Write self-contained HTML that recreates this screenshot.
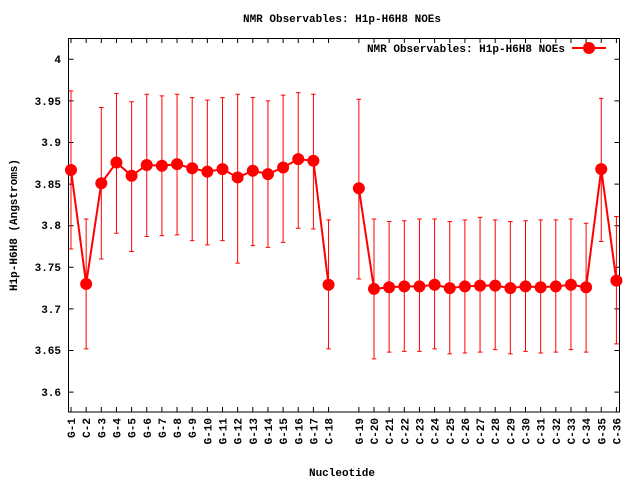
<!DOCTYPE html>
<html><head><meta charset="utf-8"><style>
html,body{margin:0;padding:0;background:#fff}
text{font-family:"Liberation Mono","DejaVu Sans Mono",monospace;font-weight:bold;font-size:11px;fill:#000}
</style></head><body>
<svg width="640" height="480" viewBox="0 0 640 480" xmlns="http://www.w3.org/2000/svg">
<rect width="640" height="480" fill="#fff"/>
<text x="342" y="22" text-anchor="middle">NMR Observables: H1p-H6H8 NOEs</text>
<text x="342" y="476" text-anchor="middle">Nucleotide</text>
<text transform="translate(17,225) rotate(-90)" text-anchor="middle">H1p-H6H8 (Angstroms)</text>
<!-- y ticks -->
<g stroke="#000" stroke-width="1">
<path d="M68.5,59.3h5M68.5,100.9h5M68.5,142.5h5M68.5,184.1h5M68.5,225.7h5M68.5,267.3h5M68.5,308.9h5M68.5,350.5h5M68.5,392.1h5"/>
<path d="M619.5,59.3h-5M619.5,100.9h-5M619.5,142.5h-5M619.5,184.1h-5M619.5,225.7h-5M619.5,267.3h-5M619.5,308.9h-5M619.5,350.5h-5M619.5,392.1h-5"/>
</g>
<g text-anchor="end">
<text x="61" y="63">4</text><text x="61" y="105">3.95</text><text x="61" y="146">3.9</text><text x="61" y="188">3.85</text><text x="61" y="229">3.8</text><text x="61" y="271">3.75</text><text x="61" y="313">3.7</text><text x="61" y="354">3.65</text><text x="61" y="396">3.6</text>
</g>
<!-- x ticks via transform -->
<g transform="matrix(15.15,0,0,1,71,0)" stroke="#000" fill="none">
<path vector-effect="non-scaling-stroke" d="M0,412v-5M1,412v-5M2,412v-5M3,412v-5M4,412v-5M5,412v-5M6,412v-5M7,412v-5M8,412v-5M9,412v-5M10,412v-5M11,412v-5M12,412v-5M13,412v-5M14,412v-5M15,412v-5M16,412v-5M17,412v-5M19,412v-5M20,412v-5M21,412v-5M22,412v-5M23,412v-5M24,412v-5M25,412v-5M26,412v-5M27,412v-5M28,412v-5M29,412v-5M30,412v-5M31,412v-5M32,412v-5M33,412v-5M34,412v-5M35,412v-5M36,412v-5
M0,38v5M1,38v5M2,38v5M3,38v5M4,38v5M5,38v5M6,38v5M7,38v5M8,38v5M9,38v5M10,38v5M11,38v5M12,38v5M13,38v5M14,38v5M15,38v5M16,38v5M17,38v5M19,38v5M20,38v5M21,38v5M22,38v5M23,38v5M24,38v5M25,38v5M26,38v5M27,38v5M28,38v5M29,38v5M30,38v5M31,38v5M32,38v5M33,38v5M34,38v5M35,38v5M36,38v5"/>
</g>
<rect x="68.5" y="38.5" width="551" height="373.5" fill="none" stroke="#000"/>
<g text-anchor="end">
<text transform="translate(75,418) rotate(-90)">G-1</text>
<text transform="translate(90.2,418) rotate(-90)">C-2</text>
<text transform="translate(105.3,418) rotate(-90)">G-3</text>
<text transform="translate(120.5,418) rotate(-90)">G-4</text>
<text transform="translate(135.6,418) rotate(-90)">G-5</text>
<text transform="translate(150.8,418) rotate(-90)">G-6</text>
<text transform="translate(165.9,418) rotate(-90)">G-7</text>
<text transform="translate(181.1,418) rotate(-90)">G-8</text>
<text transform="translate(196.2,418) rotate(-90)">G-9</text>
<text transform="translate(211.4,418) rotate(-90)">G-10</text>
<text transform="translate(226.5,418) rotate(-90)">G-11</text>
<text transform="translate(241.7,418) rotate(-90)">G-12</text>
<text transform="translate(256.8,418) rotate(-90)">G-13</text>
<text transform="translate(272,418) rotate(-90)">G-14</text>
<text transform="translate(287.1,418) rotate(-90)">G-15</text>
<text transform="translate(302.3,418) rotate(-90)">G-16</text>
<text transform="translate(317.4,418) rotate(-90)">G-17</text>
<text transform="translate(332.6,418) rotate(-90)">C-18</text>
<text transform="translate(362.9,418) rotate(-90)">G-19</text>
<text transform="translate(378,418) rotate(-90)">C-20</text>
<text transform="translate(393.2,418) rotate(-90)">C-21</text>
<text transform="translate(408.3,418) rotate(-90)">C-22</text>
<text transform="translate(423.5,418) rotate(-90)">C-23</text>
<text transform="translate(438.6,418) rotate(-90)">C-24</text>
<text transform="translate(453.8,418) rotate(-90)">C-25</text>
<text transform="translate(468.9,418) rotate(-90)">C-26</text>
<text transform="translate(484.1,418) rotate(-90)">C-27</text>
<text transform="translate(499.2,418) rotate(-90)">C-28</text>
<text transform="translate(514.4,418) rotate(-90)">C-29</text>
<text transform="translate(529.5,418) rotate(-90)">C-30</text>
<text transform="translate(544.7,418) rotate(-90)">C-31</text>
<text transform="translate(559.8,418) rotate(-90)">C-32</text>
<text transform="translate(575,418) rotate(-90)">C-33</text>
<text transform="translate(590.1,418) rotate(-90)">C-34</text>
<text transform="translate(605.3,418) rotate(-90)">G-35</text>
<text transform="translate(620.4,418) rotate(-90)">C-36</text>
</g>
<!-- data -->
<g transform="matrix(15.15,0,0,-832,71,3387.3)" fill="none" stroke="#f00">
<path vector-effect="non-scaling-stroke" stroke-width="1" d="
M0,3.772V3.962M-0.15,3.772H0.15M-0.15,3.962H0.15
M1,3.652V3.808M0.85,3.652H1.15M0.85,3.808H1.15
M2,3.760V3.942M1.85,3.760H2.15M1.85,3.942H2.15
M3,3.791V3.959M2.85,3.791H3.15M2.85,3.959H3.15
M4,3.769V3.949M3.85,3.769H4.15M3.85,3.949H4.15
M5,3.787V3.958M4.85,3.787H5.15M4.85,3.958H5.15
M6,3.788V3.956M5.85,3.788H6.15M5.85,3.956H6.15
M7,3.789V3.958M6.85,3.789H7.15M6.85,3.958H7.15
M8,3.782V3.954M7.85,3.782H8.15M7.85,3.954H8.15
M9,3.777V3.951M8.85,3.777H9.15M8.85,3.951H9.15
M10,3.782V3.954M9.85,3.782H10.15M9.85,3.954H10.15
M11,3.755V3.958M10.85,3.755H11.15M10.85,3.958H11.15
M12,3.776V3.954M11.85,3.776H12.15M11.85,3.954H12.15
M13,3.774V3.950M12.85,3.774H13.15M12.85,3.950H13.15
M14,3.780V3.957M13.85,3.780H14.15M13.85,3.957H14.15
M15,3.797V3.960M14.85,3.797H15.15M14.85,3.960H15.15
M16,3.796V3.958M15.85,3.796H16.15M15.85,3.958H16.15
M17,3.652V3.807M16.85,3.652H17.15M16.85,3.807H17.15
M19,3.736V3.952M18.85,3.736H19.15M18.85,3.952H19.15
M20,3.640V3.808M19.85,3.640H20.15M19.85,3.808H20.15
M21,3.648V3.805M20.85,3.648H21.15M20.85,3.805H21.15
M22,3.649V3.806M21.85,3.649H22.15M21.85,3.806H22.15
M23,3.649V3.808M22.85,3.649H23.15M22.85,3.808H23.15
M24,3.652V3.808M23.85,3.652H24.15M23.85,3.808H24.15
M25,3.646V3.805M24.85,3.646H25.15M24.85,3.805H25.15
M26,3.647V3.807M25.85,3.647H26.15M25.85,3.807H26.15
M27,3.648V3.810M26.85,3.648H27.15M26.85,3.810H27.15
M28,3.651V3.807M27.85,3.651H28.15M27.85,3.807H28.15
M29,3.646V3.805M28.85,3.646H29.15M28.85,3.805H29.15
M30,3.649V3.806M29.85,3.649H30.15M29.85,3.806H30.15
M31,3.647V3.807M30.85,3.647H31.15M30.85,3.807H31.15
M32,3.648V3.807M31.85,3.648H32.15M31.85,3.807H32.15
M33,3.651V3.808M32.85,3.651H33.15M32.85,3.808H33.15
M34,3.648V3.803M33.85,3.648H34.15M33.85,3.803H34.15
M35,3.781V3.953M34.85,3.781H35.15M34.85,3.953H35.15
M36,3.658V3.811M35.85,3.658H36.15M35.85,3.811H36.15"/>
<path vector-effect="non-scaling-stroke" stroke-width="2" d="M0,3.867L1,3.730L2,3.851L3,3.876L4,3.860L5,3.873L6,3.872L7,3.874L8,3.869L9,3.865L10,3.868L11,3.858L12,3.866L13,3.862L14,3.870L15,3.880L16,3.878L17,3.729
M19,3.845L20,3.724L21,3.726L22,3.727L23,3.727L24,3.729L25,3.725L26,3.727L27,3.728L28,3.728L29,3.725L30,3.727L31,3.726L32,3.727L33,3.729L34,3.726L35,3.868L36,3.734"/>
<path vector-effect="non-scaling-stroke" stroke-width="12" stroke-linecap="round" d="M0,3.867h0M1,3.730h0M2,3.851h0M3,3.876h0M4,3.860h0M5,3.873h0M6,3.872h0M7,3.874h0M8,3.869h0M9,3.865h0M10,3.868h0M11,3.858h0M12,3.866h0M13,3.862h0M14,3.870h0M15,3.880h0M16,3.878h0M17,3.729h0M19,3.845h0M20,3.724h0M21,3.726h0M22,3.727h0M23,3.727h0M24,3.729h0M25,3.725h0M26,3.727h0M27,3.728h0M28,3.728h0M29,3.725h0M30,3.727h0M31,3.726h0M32,3.727h0M33,3.729h0M34,3.726h0M35,3.868h0M36,3.734h0"/>
</g>
<!-- legend -->
<text x="565" y="52" text-anchor="end">NMR Observables: H1p-H6H8 NOEs</text>
<path d="M572,48H606" stroke="#f00" stroke-width="2"/>
<circle cx="589" cy="48" r="6" fill="#f00"/>
</svg>
</body></html>
